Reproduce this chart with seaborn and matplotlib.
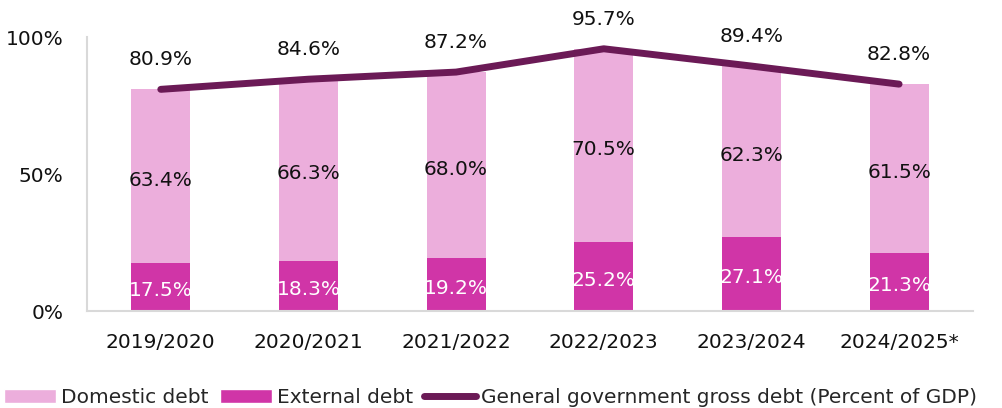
import numpy as np
import pandas as pd
import matplotlib
matplotlib.use("Agg")
import matplotlib.pyplot as plt
import seaborn as sns
from matplotlib.patches import Patch
from matplotlib.lines import Line2D

years = ["2019/2020", "2020/2021", "2021/2022", "2022/2023", "2023/2024", "2024/2025*"]
domestic = [63.4, 66.3, 68.0, 70.5, 62.3, 61.5]
external = [17.5, 18.3, 19.2, 25.2, 27.1, 21.3]
gross_debt = [80.9, 84.6, 87.2, 95.7, 89.4, 82.8]

sns.set_theme(style="white")
plt.rcParams["font.family"] = ["DejaVu Sans"]

c_dom = "#ECAEDC"
c_ext = "#D035A7"
c_line = "#6B1A56"

df = pd.DataFrame({"year": years, "domestic": domestic, "external": external,
                   "total": np.add(domestic, external), "gross": gross_debt})

fig = plt.figure(figsize=(10.03, 4.08), dpi=100)
ax = fig.add_axes([0.0867, 0.2377, 0.8833, 0.6716])

# stacked bars: full height in domestic colour, external drawn over the base
sns.barplot(data=df, x="year", y="total", color=c_dom, width=0.4, ax=ax,
            saturation=1, edgecolor="none")
sns.barplot(data=df, x="year", y="external", color=c_ext, width=0.4, ax=ax,
            saturation=1, edgecolor="none")

xpos = np.arange(len(years))
sns.lineplot(x=xpos, y=df["gross"], color=c_line, linewidth=5, ax=ax,
             solid_capstyle="round")

fs = 14.5
tc = "#111111"
for i in xpos:
    ext, dom, tot = df.loc[i, "external"], df.loc[i, "domestic"], df.loc[i, "gross"]
    ax.text(i, ext / 2 - 1.4, f"{ext:.1f}%", ha="center", va="center", color="white", fontsize=fs)
    ax.text(i, ext + dom / 2 - 1.4, f"{dom:.1f}%", ha="center", va="center", color=tc, fontsize=fs)
    ax.text(i, tot + 7.4, f"{tot:.1f}%", ha="center", va="bottom", color=tc, fontsize=fs)

ax.set_xlim(-0.5, len(years) - 0.5)
ax.set_ylim(0, 100)
ax.set_yticks([0, 50, 100])
ax.set_yticklabels(["0%", "50%", "100%"])
ax.set_xlabel("")
ax.set_ylabel("")
ax.tick_params(axis="both", length=0, labelsize=fs, colors=tc)
ax.tick_params(axis="y", pad=17)
ax.tick_params(axis="x", pad=16)
for s in ["top", "right"]:
    ax.spines[s].set_visible(False)
for s in ["left", "bottom"]:
    ax.spines[s].set_color("#D9D9D9")
    ax.spines[s].set_linewidth(1.5)

handles = [Patch(facecolor=c_dom, label="Domestic debt"),
           Patch(facecolor=c_ext, label="External debt"),
           Line2D([], [], color=c_line, linewidth=5, solid_capstyle="round",
                  label="General government gross debt (Percent of GDP)")]
fig.legend(handles=handles, loc="lower left", bbox_to_anchor=(-0.004, -0.018), ncol=3,
           frameon=False, fontsize=fs, handlelength=2.58, handleheight=0.65,
           handletextpad=0.25, columnspacing=0.55, borderaxespad=0)

fig.savefig("out.png", dpi=100)
